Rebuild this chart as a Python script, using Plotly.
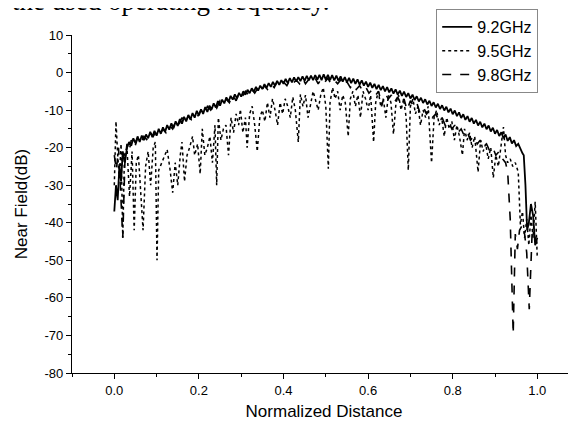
import plotly.graph_objects as go

# ---- 9.2 GHz (solid) ----
x_92 = [0.000, 0.004, 0.008, 0.012, 0.016, 0.020, 0.025,
        0.030, 0.035, 0.040, 0.045, 0.050, 0.055, 0.060, 0.065, 0.070, 0.075,
        0.080, 0.085, 0.090, 0.095, 0.100, 0.105, 0.110, 0.115, 0.120, 0.125,
        0.130, 0.135, 0.140, 0.145, 0.150, 0.155, 0.160, 0.165, 0.170, 0.175,
        0.180, 0.185, 0.190, 0.195, 0.200, 0.205, 0.210, 0.215, 0.220, 0.225,
        0.230, 0.235, 0.240, 0.245, 0.250, 0.255, 0.260, 0.265, 0.270, 0.275,
        0.280, 0.285, 0.290, 0.295, 0.300, 0.305, 0.310, 0.315, 0.320, 0.325,
        0.330, 0.335, 0.340, 0.345, 0.350, 0.355, 0.360, 0.365, 0.370, 0.375,
        0.380, 0.385, 0.390, 0.395, 0.400, 0.405, 0.410, 0.415, 0.420, 0.425,
        0.430, 0.435, 0.440, 0.445, 0.450, 0.455, 0.460, 0.465, 0.470, 0.475,
        0.480, 0.485, 0.490, 0.495, 0.500, 0.505, 0.510, 0.515, 0.520, 0.525,
        0.530, 0.535, 0.540, 0.545, 0.550, 0.555, 0.560, 0.565, 0.570, 0.575,
        0.580, 0.585, 0.590, 0.595, 0.600, 0.605, 0.610, 0.615, 0.620, 0.625,
        0.630, 0.635, 0.640, 0.645, 0.650, 0.655, 0.660, 0.665, 0.670, 0.675,
        0.680, 0.685, 0.690, 0.695, 0.700, 0.705, 0.710, 0.715, 0.720, 0.725,
        0.730, 0.735, 0.740, 0.745, 0.750, 0.755, 0.760, 0.765, 0.770, 0.775,
        0.780, 0.785, 0.790, 0.795, 0.800, 0.805, 0.810, 0.815, 0.820, 0.825,
        0.830, 0.835, 0.840, 0.845, 0.850, 0.855, 0.860, 0.865, 0.870, 0.875,
        0.880, 0.885, 0.890, 0.895, 0.900, 0.905, 0.910, 0.915, 0.920, 0.925,
        0.930, 0.935, 0.940, 0.945, 0.950, 0.955, 0.960,
        0.965, 0.968, 0.972, 0.976, 0.980, 0.985, 0.990, 0.995, 1.000]
y_92 = [-37, -30, -34, -25, -29, -21, -24,
        -20, -18.5, -19.5, -17.5, -18.8, -17, -18.5, -16.8, -18, -16.5,
        -17.5, -15.8, -17.2, -15.5, -16.8, -15, -16.3, -14.6, -15.8, -14,
        -15.2, -13.5, -14.8, -13, -14.2, -12.4, -13.6, -11.8, -13, -11.3,
        -12.5, -10.8, -12, -10.2, -11.4, -9.8, -11, -9.2, -10.5, -8.8,
        -9.8, -8.2, -9.3, -7.6, -8.8, -7.2, -8.2, -6.6, -7.8, -6.2,
        -7.2, -5.8, -6.8, -5.4, -6.4, -5, -5.9, -4.6, -5.5, -4.2,
        -5.1, -3.8, -4.8, -3.5, -4.4, -3.1, -4.1, -2.8, -3.8, -2.5,
        -3.5, -2.2, -3.3, -2, -3, -1.7, -2.8, -1.5, -2.6, -1.3,
        -2.4, -1.2, -2.3, -1, -2.2, -0.9, -2.1, -0.8, -2, -0.7,
        -1.9, -0.6, -2, -0.5, -1.9, -0.6, -2, -0.7, -2.1, -0.8,
        -2.2, -1, -2.4, -1.2, -2.6, -1.4, -2.8, -1.6, -3, -1.8,
        -3.2, -2.1, -3.5, -2.4, -3.8, -2.7, -4.1, -3, -4.4, -3.3,
        -4.7, -3.6, -5, -3.9, -5.3, -4.2, -5.6, -4.5, -5.9, -4.8,
        -6.2, -5.1, -6.5, -5.5, -6.9, -5.9, -7.3, -6.3, -7.7, -6.7,
        -8.1, -7.1, -8.5, -7.5, -8.9, -7.9, -9.3, -8.3, -9.7, -8.7,
        -10.1, -9.1, -10.6, -9.6, -11.1, -10.1, -11.6, -10.6, -12.1, -11.1,
        -12.6, -11.6, -13.1, -12.1, -13.6, -12.6, -14.1, -13.1, -14.6, -13.6,
        -15.1, -14.1, -15.7, -14.7, -16.3, -15.3, -16.9, -15.9, -17.5, -16.5,
        -18.2, -17.2, -18.9, -18, -19.6, -19, -20.5,
        -21.5, -22, -30, -42, -40, -35, -38, -46, -44]

# ---- 9.5 GHz (dotted) ----
x_95 = [0.000, 0.004, 0.008, 0.012, 0.016, 0.020, 0.024, 0.030, 0.036, 0.042, 0.047, 0.052, 0.057, 0.062,
        0.068, 0.074, 0.080, 0.086, 0.092, 0.097, 0.101, 0.105, 0.112, 0.118, 0.125, 0.132, 0.138, 0.144,
        0.150, 0.156, 0.160, 0.166, 0.172, 0.178, 0.185, 0.190, 0.197, 0.203, 0.208, 0.214, 0.220, 0.226,
        0.232, 0.238, 0.242, 0.246, 0.252, 0.258, 0.264, 0.270, 0.276, 0.282, 0.288, 0.294, 0.298, 0.304,
        0.310, 0.314, 0.320, 0.326, 0.332, 0.338, 0.344, 0.350, 0.356, 0.362, 0.368, 0.374, 0.380, 0.386,
        0.392, 0.398, 0.404, 0.410, 0.416, 0.422, 0.428, 0.435, 0.440, 0.446, 0.452, 0.458, 0.464, 0.470,
        0.475, 0.482, 0.488, 0.494, 0.500, 0.506, 0.510, 0.516, 0.522, 0.528, 0.534, 0.540, 0.546, 0.553,
        0.558, 0.564, 0.570, 0.576, 0.582, 0.588, 0.594, 0.600, 0.606, 0.613, 0.618, 0.624, 0.630, 0.636,
        0.642, 0.648, 0.654, 0.660, 0.666, 0.672, 0.678, 0.684, 0.690, 0.695, 0.700, 0.706, 0.712, 0.718,
        0.724, 0.730, 0.736, 0.742, 0.750, 0.756, 0.762, 0.768, 0.774, 0.780, 0.786, 0.792, 0.798, 0.804,
        0.810, 0.816, 0.823, 0.828, 0.834, 0.840, 0.846, 0.852, 0.860, 0.866, 0.872, 0.878, 0.884, 0.890,
        0.896, 0.902, 0.908, 0.914, 0.920, 0.925, 0.930, 0.936, 0.942, 0.948, 0.955, 0.960, 0.965, 0.970,
        0.975, 0.980, 0.985, 0.990, 0.995, 1.000]
y_95 = [-30, -13, -22, -28, -19, -44, -22, -20, -33, -21, -42, -24, -22, -30,
        -42, -25, -21, -30, -20, -18.5, -50, -26, -24, -22, -20.5, -26, -32, -24,
        -30, -22, -18.5, -29, -22, -20, -17, -22, -19, -27, -15, -22, -20, -17,
        -24, -14, -30, -12, -18, -15, -14, -22, -12, -16, -11, -14, -9.8, -16,
        -12, -20, -11, -9, -14, -21, -12, -10, -13, -8, -12, -7, -10, -14,
        -8, -11, -7, -9, -12, -6.5, -10, -18.5, -5.8, -9, -6, -12, -8, -5,
        -7, -10, -6, -4, -9, -25.6, -8, -4, -7, -5, -10, -6, -8, -17,
        -7, -5, -9, -6, -12, -5, -7, -10, -6, -18.5, -8, -5, -9, -7,
        -12, -6, -8, -16.4, -8, -6, -10, -7, -12, -26, -9, -7, -11, -9,
        -14, -10, -12, -9, -24, -12, -10, -14, -12, -17, -12, -15, -13, -18,
        -14, -17, -22, -15, -18, -16, -20, -17, -26.5, -18, -21, -19, -23, -20,
        -28, -22, -25, -20, -14.5, -22, -24, -23, -25, -24, -26.5, -40.5, -37, -44,
        -39, -46, -38, -44, -34.4, -49.5]

# ---- 9.8 GHz (dashed) ----
x_98 = [0.000, 0.005, 0.010, 0.015, 0.020, 0.025, 0.030, 0.035, 0.040, 0.048, 0.055, 0.062, 0.070, 0.078,
        0.085, 0.092, 0.100, 0.108, 0.115, 0.122, 0.130, 0.138, 0.145, 0.152, 0.160, 0.168, 0.175, 0.182,
        0.190, 0.198, 0.205, 0.212, 0.220, 0.228, 0.235, 0.242, 0.250, 0.258, 0.265, 0.272, 0.280, 0.288,
        0.295, 0.302, 0.310, 0.318, 0.325, 0.332, 0.340, 0.348, 0.355, 0.362, 0.370, 0.378, 0.385, 0.392,
        0.400, 0.408, 0.415, 0.422, 0.430, 0.438, 0.445, 0.452, 0.460, 0.468, 0.475, 0.482, 0.490, 0.498,
        0.505, 0.512, 0.520, 0.528, 0.535, 0.542, 0.550, 0.558, 0.565, 0.572, 0.580, 0.588, 0.595, 0.602,
        0.610, 0.618, 0.625, 0.632, 0.640, 0.648, 0.655, 0.662, 0.670, 0.678, 0.685, 0.692, 0.700, 0.708,
        0.715, 0.722, 0.730, 0.738, 0.745, 0.752, 0.760, 0.768, 0.775, 0.782, 0.790, 0.798, 0.805, 0.812,
        0.820, 0.828, 0.835, 0.842, 0.850, 0.858, 0.865, 0.872, 0.880, 0.888, 0.895, 0.902, 0.910, 0.918,
        0.925, 0.930, 0.936, 0.943, 0.948, 0.953, 0.958, 0.965, 0.970, 0.975, 0.981, 0.988, 0.995, 1.000]
y_98 = [-22, -26, -20, -33, -44, -24, -19, -21, -18, -20, -17.5, -19, -17, -18,
        -16, -17, -15.5, -16.5, -15, -16, -14, -15, -13, -14, -12, -13.5, -11.5, -12.5,
        -11, -11.5, -10, -11, -9, -10, -8.5, -9.5, -7.5, -8.5, -7, -8, -6, -7.5,
        -5.5, -6.5, -5, -6, -4.5, -5.5, -4, -5, -3.5, -4.5, -3, -4, -2.5, -3.5,
        -2.5, -3.5, -2, -3, -2, -3, -1.5, -3, -1.8, -2.5, -1.5, -3, -1.5, -2.5,
        -1.5, -3, -2, -3, -2, -3.5, -2.5, -4, -3, -4.5, -3.5, -5, -4, -5.5,
        -4.5, -6, -5, -9, -5.5, -7, -6, -8, -6.5, -8.5, -7, -10, -7.5, -9,
        -8, -10.5, -9, -11, -10, -12, -11, -13, -12, -14, -13, -15, -14, -16,
        -15, -17, -16, -18, -17, -19, -18, -20, -19, -21, -20, -22, -21, -23,
        -24, -26.5, -39, -69.6, -43, -47, -42, -40.5, -43, -48, -63, -42, -44, -46]

series_names = ["9.2GHz", "9.5GHz", "9.8GHz"]
x_ticks = [0.0, 0.2, 0.4, 0.6, 0.8, 1.0]
y_ticks = [10, 0, -10, -20, -30, -40, -50, -60, -70, -80]

fig = go.Figure()
fig.add_trace(go.Scatter(x=x_92, y=y_92, mode="lines", name=series_names[0],
                         line=dict(color="black", width=1.8, dash="solid")))
fig.add_trace(go.Scatter(x=x_95, y=y_95, mode="lines", name=series_names[1],
                         line=dict(color="black", width=1.5, dash="dot")))
fig.add_trace(go.Scatter(x=x_98, y=y_98, mode="lines", name=series_names[2],
                         line=dict(color="black", width=1.6, dash="dash")))

FONT = "Arial, Liberation Sans, sans-serif"
axis_font = dict(family=FONT, size=13, color="black")
fig.update_layout(
    width=568, height=417,
    margin=dict(l=64, r=0, t=27, b=52, autoexpand=False),
    paper_bgcolor="white", plot_bgcolor="white",
    showlegend=True,
    legend=dict(x=0.925, y=1.077, xanchor="right", yanchor="top",
                bgcolor="white", bordercolor="#888888", borderwidth=1,
                font=dict(family=FONT, size=16, color="black"),
                tracegroupgap=0, itemwidth=30),
    xaxis=dict(range=[-0.1, 1.0915], tickvals=x_ticks, ticktext=[f"{v:.1f}" for v in x_ticks],
               showline=True, linecolor="black", linewidth=1.3, mirror=False, automargin=False,
               ticks="outside", ticklen=5, tickwidth=1.2, tickcolor="black",
               minor=dict(dtick=0.1, tick0=0, ticks="outside", ticklen=3, tickcolor="black"),
               showgrid=False, zeroline=False, tickfont=axis_font,
               title=dict(text="Normalized Distance", font=dict(family=FONT, size=17, color="black"), standoff=8)),
    yaxis=dict(range=[-80, 10], tickvals=y_ticks, ticktext=[str(v) for v in y_ticks],
               showline=True, linecolor="black", linewidth=1.3, mirror=False, automargin=False,
               ticks="outside", ticklen=5, tickwidth=1.2, tickcolor="black",
               minor=dict(dtick=5, tick0=0, ticks="outside", ticklen=3, tickcolor="black"),
               showgrid=False, zeroline=False, tickfont=axis_font,
               title=dict(text="Near Field(dB)", font=dict(family=FONT, size=17, color="black"), standoff=12)),
)

fig.add_annotation(text="the used operating frequency.", xref="paper", yref="paper",
                   x=-0.123, y=1.050, xanchor="left", yanchor="bottom", showarrow=False,
                   font=dict(family="Liberation Serif, Times New Roman, serif", size=27, color="black"))

fig.write_html("out.html")
